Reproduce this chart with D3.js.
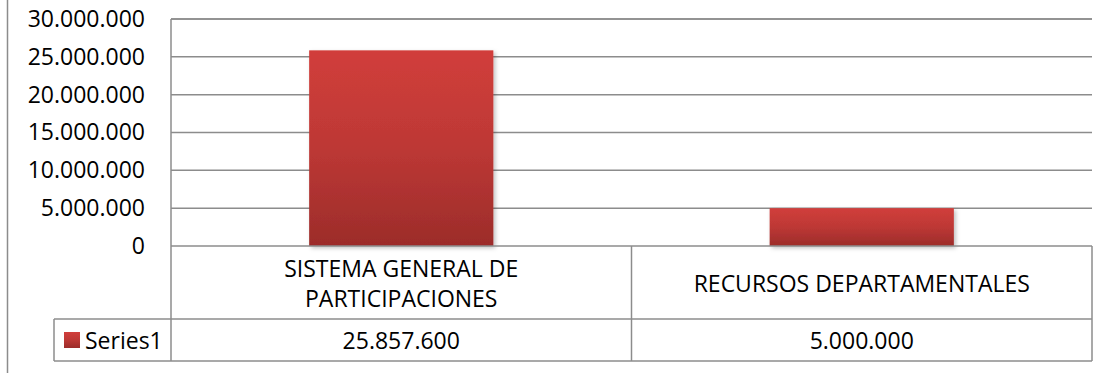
<!DOCTYPE html>
<html>
<head>
<meta charset="utf-8">
<script src="https://cdn.jsdelivr.net/npm/d3@7"></script>
<style>
  html, body { margin: 0; padding: 0; background: #fff; }
  svg { display: block; font-family: "Open Sans", "Liberation Sans", sans-serif; }
</style>
</head>
<body>
<svg id="chart" width="1112" height="373"></svg>
<script>
// Presupuesto por fuente de financiación
const categories = ["SISTEMA GENERAL DE PARTICIPACIONES", "RECURSOS DEPARTAMENTALES"];
const categoryLines = [["SISTEMA GENERAL DE", "PARTICIPACIONES"], ["RECURSOS DEPARTAMENTALES"]];
const seriesName = "Series1";
const seriesValues = [25857600, 5000000];
const yTicks = [0, 5000000, 10000000, 15000000, 20000000, 25000000, 30000000];

const locale = d3.formatLocale({ decimal: ",", thousands: ".", grouping: [3], currency: ["$", ""] });
const fmt = locale.format(",.0f");

const svg = d3.select("#chart");
const W = 1112, H = 373;
const plot = { left: 171, right: 1092, top: 19, bottom: 246 };
const table = { headerBottom: 319, bottom: 361, legendLeft: 54 };
const gridColor = "#8c8c8c";
const fontSize = 23;

const x = d3.scaleBand().domain(categories).range([plot.left, plot.right]).paddingInner(0).paddingOuter(0);
const y = d3.scaleLinear().domain([0, 30000000]).range([plot.bottom, plot.top]);

const defs = svg.append("defs");
const grad = defs.append("linearGradient").attr("id", "barFill")
  .attr("x1", 0).attr("y1", 0).attr("x2", 0).attr("y2", 1);
grad.append("stop").attr("offset", "0%").attr("stop-color", "#d13e3b");
grad.append("stop").attr("offset", "50%").attr("stop-color", "#bd3835");
grad.append("stop").attr("offset", "100%").attr("stop-color", "#9c2c2a");
const shadow = defs.append("filter").attr("id", "barShadow")
  .attr("x", "-10%").attr("y", "-10%").attr("width", "130%").attr("height", "130%");
shadow.append("feDropShadow").attr("dx", 2).attr("dy", 2).attr("stdDeviation", 2)
  .attr("flood-color", "#000").attr("flood-opacity", 0.25);

// outer frame edge
svg.append("line").attr("x1", 7.5).attr("x2", 7.5).attr("y1", 0).attr("y2", H)
  .attr("stroke", gridColor).attr("stroke-width", 1.5);

// gridlines
svg.append("g").selectAll("line").data(yTicks.filter(d => d > 0)).join("line")
  .attr("x1", plot.left).attr("x2", plot.right)
  .attr("y1", d => y(d)).attr("y2", d => y(d))
  .attr("stroke", gridColor).attr("stroke-width", 1.5);

// y axis labels
const yAxis = d3.axisLeft(y).tickValues(yTicks).tickFormat(fmt).tickSize(0).tickPadding(0);
const gy = svg.append("g").attr("transform", `translate(${plot.left - 26},0)`).call(yAxis);
gy.select(".domain").remove();
gy.selectAll("text").attr("font-size", fontSize).attr("fill", "#000")
  .attr("font-family", "'Open Sans', sans-serif");

// bars
const bw = x.bandwidth() * 0.4;
svg.append("g").selectAll("rect").data(seriesValues).join("rect")
  .attr("x", (d, i) => x(categories[i]) + (x.bandwidth() - bw) / 2)
  .attr("width", bw)
  .attr("y", d => y(d))
  .attr("height", d => y(0) - y(d))
  .attr("fill", "url(#barFill)")
  .attr("filter", "url(#barShadow)");

// data table lines
const tl = svg.append("g").attr("stroke", gridColor).attr("stroke-width", 1.5);
tl.append("line").attr("x1", plot.left).attr("x2", plot.right).attr("y1", plot.bottom).attr("y2", plot.bottom);
tl.append("line").attr("x1", table.legendLeft).attr("x2", plot.right).attr("y1", table.headerBottom).attr("y2", table.headerBottom);
tl.append("line").attr("x1", table.legendLeft).attr("x2", plot.right).attr("y1", table.bottom).attr("y2", table.bottom);
tl.append("line").attr("x1", plot.left).attr("x2", plot.left).attr("y1", plot.top).attr("y2", table.bottom);
tl.append("line").attr("x1", table.legendLeft).attr("x2", table.legendLeft).attr("y1", table.headerBottom).attr("y2", table.bottom);
tl.selectAll(".col").data(categories).join("line")
  .attr("x1", d => x(d) + x.bandwidth()).attr("x2", d => x(d) + x.bandwidth())
  .attr("y1", plot.bottom).attr("y2", table.bottom);
tl.append("line").attr("x1", plot.left).attr("x2", plot.right).attr("y1", plot.top).attr("y2", plot.top);

// category headers
const headerMid = (plot.bottom + table.headerBottom) / 2;
const lineGap = 30;
categories.forEach((c, i) => {
  const lines = categoryLines[i];
  const cx = x(c) + x.bandwidth() / 2;
  lines.forEach((t, j) => {
    svg.append("text")
      .attr("x", cx)
      .attr("y", headerMid + (j - (lines.length - 1) / 2) * lineGap)
      .attr("text-anchor", "middle").attr("dominant-baseline", "central")
      .attr("font-size", fontSize).attr("fill", "#000").text(t);
  });
});

// values row
const valueMid = (table.headerBottom + table.bottom) / 2;
svg.append("g").selectAll("text").data(seriesValues).join("text")
  .attr("x", (d, i) => x(categories[i]) + x.bandwidth() / 2)
  .attr("y", valueMid)
  .attr("text-anchor", "middle").attr("dominant-baseline", "central")
  .attr("font-size", fontSize).attr("fill", "#000")
  .text(d => fmt(d));

// legend key
svg.append("rect").attr("x", 64).attr("y", valueMid - 8).attr("width", 16).attr("height", 16)
  .attr("fill", "url(#barFill)");
svg.append("text").attr("x", 85).attr("y", valueMid)
  .attr("dominant-baseline", "central").attr("font-size", fontSize).attr("fill", "#000")
  .text(seriesName);
</script>
</body>
</html>
